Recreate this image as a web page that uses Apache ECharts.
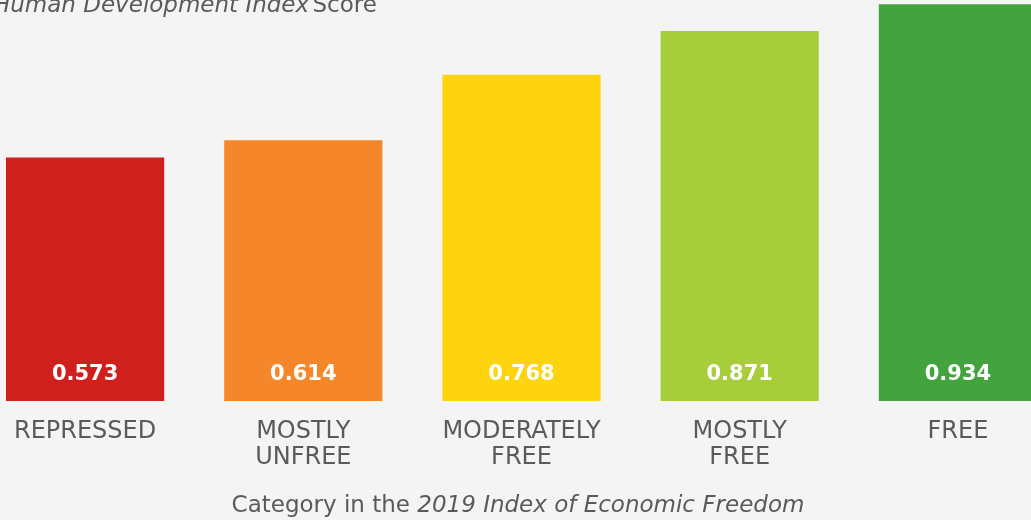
<!DOCTYPE html>
<html>
<head>
<meta charset="utf-8">
<script src="https://cdn.jsdelivr.net/npm/echarts@6/dist/echarts.min.js"></script>
<style>
  html, body { margin: 0; padding: 0; background: #f4f4f4; overflow: hidden; }
  /* chart is wider than the window: the first and last bands are cut off in the original */
  #chart { width: 1091px; height: 520px; margin-left: -24px; }
</style>
</head>
<body>
<div id="chart"></div>
<script>
// data
const categories = ['REPRESSED', 'MOSTLY\nUNFREE', 'MODERATELY\nFREE', 'MOSTLY\nFREE', 'FREE'];
const scores = [0.573, 0.614, 0.768, 0.871, 0.934];
const barColors = ['#d0201e', '#f5862a', '#fdd40e', '#a8cd3a', '#43a33f'];

const FONT = 'DejaVu Sans';
const GREY = '#5a5a5a';

const chart = echarts.init(document.getElementById('chart'));
chart.setOption({
    backgroundColor: '#f4f4f4',
    animation: false,
    textStyle: { fontFamily: FONT },
    grid: { left: 0, right: 0, top: 0, bottom: 119 },
    graphic: [{
        // y axis title (top left)
        type: 'text',
        x: 17,
        y: 6,
        style: {
            text: '{i|Human Development Index} {n|Score}',
            verticalAlign: 'middle',
            rich: {
                i: { fontFamily: FONT, fontSize: 23, fontStyle: 'italic', fill: GREY },
                n: { fontFamily: FONT, fontSize: 23, fill: GREY }
            }
        }
    }, {
        // x axis title
        type: 'text',
        x: 542,
        y: 506,
        style: {
            text: '{n|Category in the }{i|2019 Index of Economic Freedom}',
            align: 'center',
            verticalAlign: 'middle',
            rich: {
                i: { fontFamily: FONT, fontSize: 23, fontStyle: 'italic', fill: GREY },
                n: { fontFamily: FONT, fontSize: 23, fill: GREY }
            }
        }
    }],
    xAxis: {
        type: 'category',
        data: categories,
        axisLine: { show: false },
        axisTick: { show: false },
        axisLabel: {
            color: GREY,
            fontSize: 24,
            lineHeight: 26,
            margin: 18,
            interval: 0
        }
    },
    yAxis: {
        type: 'value',
        min: 0,
        max: 0.944,
        show: false,
        splitLine: { show: false }
    },
    series: [{
        type: 'bar',
        barCategoryGap: '27.5%',
        data: scores.map((v, i) => ({ value: v, itemStyle: { color: barColors[i] } })),
        label: {
            show: true,
            position: 'insideBottom',
            distance: 16,
            color: '#fff',
            fontSize: 21,
            fontWeight: 'bold',
            formatter: p => p.value.toFixed(3)
        }
    }]
});
</script>
</body>
</html>
